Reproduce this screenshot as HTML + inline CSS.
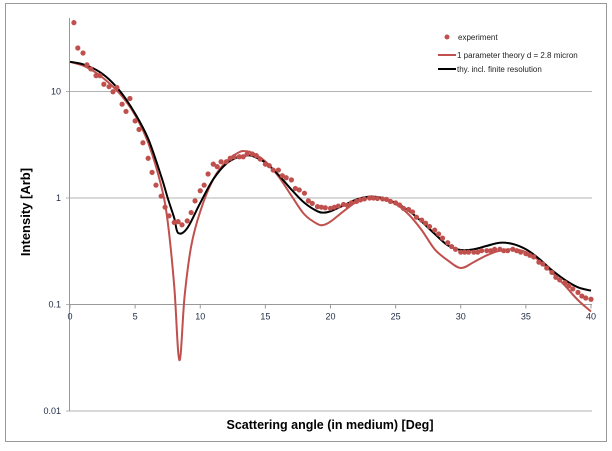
<!DOCTYPE html>
<html><head><meta charset="utf-8"><style>
body{margin:0;background:#fff;}
svg{display:block;font-family:"Liberation Sans",sans-serif;}
</style></head><body>
<svg width="612" height="451" viewBox="0 0 612 451">
<rect x="5.5" y="3.5" width="601" height="438" fill="#fff" stroke="#999"/>
<g id="grid"></g>
<g id="axes"></g>
<g id="series"></g>
<text x="30" y="212" transform="rotate(-90 30 212)" text-anchor="middle" font-size="13" font-weight="bold" fill="#000">Intensity [Arb]</text>
<text x="330" y="429" text-anchor="middle" font-size="12.5" font-weight="bold" fill="#000">Scattering angle (in medium) [Deg]</text>
<g font-size="8" fill="#222">
<circle cx="447" cy="37" r="2.5" fill="#c0504d"/>
<text x="458" y="40">experiment</text>
<line x1="438" y1="55" x2="456" y2="55" stroke="#c0504d" stroke-width="2"/>
<text x="457" y="58">1 parameter theory d = 2.8 micron</text>
<line x1="438" y1="69" x2="456" y2="69" stroke="#000" stroke-width="2"/>
<text x="457" y="72">thy. incl. finite resolution</text>
</g>
</svg>
<script>
const xTicks=[0,5,10,15,20,25,30,35,40];
const yTicks=[10,1,0.1,0.01];
const yTickLabels=["10","1","0.1","0.01"];
const expX=[0.3,0.6,1.0,1.3,1.6,2.0,2.3,2.6,3.0,3.3,3.6,4.0,4.3,4.6,5.0,5.3,5.6,6.0,6.3,6.6,7.0,7.3,7.6,8.0,8.3,8.6,9.0,9.3,9.6,10.0,10.3,10.6,11.0,11.3,11.6,12.0,12.3,12.6,13.0,13.3,13.6,14.0,14.3,14.6,15.0,15.3,15.6,16.0,16.3,16.6,17.0,17.3,17.6,18.0,18.3,18.6,19.0,
19.3,19.6,20.0,20.3,20.6,21.0,21.3,21.6,22.0,22.3,22.6,23.0,23.3,23.6,24.0,24.3,24.6,25.0,25.3,25.6,26.0,26.3,26.6,27.0,27.3,27.6,28.0,28.3,28.6,29.0,29.3,29.6,30.0,30.3,30.6,31.0,31.3,31.6,32.0,32.3,32.6,33.0,33.3,33.6,34.0,34.3,34.6,35.0,35.3,35.6,36.0,36.3,36.6,37.0,37.3,37.6,38.0,38.3,38.6,39.0,39.3,39.6,40.0];
const expY=[44.3,25.6,23,17.8,16.3,14.1,14.1,11.7,11.1,9.95,10.9,7.6,6.5,8.6,5.3,4.4,3.3,2.36,1.74,1.32,1.04,0.82,0.68,0.59,0.60,0.56,0.61,0.73,0.94,1.17,1.32,1.68,2.08,1.97,2.19,2.19,2.36,2.44,2.44,2.44,2.59,2.59,2.50,2.32,2.08,2.01,1.83,1.83,1.62,1.55,1.48,1.23,1.19,1.11,0.94,0.89,0.83,
0.82,0.81,0.80,0.82,0.84,0.87,0.85,0.90,0.93,0.96,0.98,1.0,1.0,0.99,0.98,0.97,0.93,0.90,0.86,0.80,0.78,0.74,0.66,0.62,0.58,0.54,0.50,0.46,0.42,0.38,0.35,0.33,0.31,0.31,0.31,0.31,0.31,0.32,0.32,0.32,0.33,0.33,0.32,0.32,0.33,0.32,0.31,0.30,0.29,0.28,0.25,0.24,0.22,0.20,0.18,0.17,0.16,0.15,0.14,0.13,0.12,0.115,0.112];
const thX=[0,1,2,3,4,5,6,7,7.5,8,8.4,8.8,9.3,10,11,12,13,13.5,14,15,16,17,18,19,19.5,20,21,22,23,24,25,26,27,28,29,30,31,32,33,34,35,36,37,38,39,40];
const thY=[19,17.5,15,12,9,6,3.3,1.3,0.6,0.15,0.03,0.12,0.35,0.75,1.5,2.2,2.7,2.75,2.65,2.2,1.6,1.05,0.7,0.57,0.56,0.6,0.75,0.92,1.02,0.98,0.88,0.7,0.5,0.33,0.26,0.22,0.25,0.29,0.32,0.33,0.31,0.26,0.2,0.15,0.11,0.086];
const resX=[0,1,2,3,4,5,6,7,7.5,8,8.3,9,10,11,12,13,13.6,14,15,16,17,18,19,19.5,20,21,22,23,24,25,26,27,28,29,30,31,32,33,34,35,36,37,38,39,40];
const resY=[19,18,16,13,9.5,6.2,3.6,1.6,1.0,0.65,0.47,0.52,0.9,1.5,2.1,2.45,2.5,2.48,2.15,1.65,1.2,0.9,0.75,0.73,0.75,0.85,0.97,1.03,1.0,0.9,0.76,0.6,0.46,0.36,0.325,0.33,0.355,0.38,0.37,0.33,0.27,0.21,0.17,0.145,0.135];

const NS="http://www.w3.org/2000/svg";
const X=v=>70+v*(521/40);
const Y=v=>198-Math.log10(v)*106.5;
function mk(tag,attrs,parent){const e=document.createElementNS(NS,tag);for(const k in attrs)e.setAttribute(k,attrs[k]);parent.appendChild(e);return e;}
const grid=document.getElementById('grid'),axes=document.getElementById('axes'),series=document.getElementById('series');

yTicks.forEach((t,i)=>{
  const l=mk('line',{x1:66,x2:592,y1:Y(t),y2:Y(t),stroke:'#b3b3b3','stroke-width':1},grid);
  
  
  const tx=mk('text',{x:61,y:Y(t)+3,'text-anchor':'end','font-size':9,fill:'#1f2a44'},axes);
  tx.textContent=yTickLabels[i];
  
  
});
const ya=mk('line',{x1:69.5,x2:69.5,y1:18,y2:Y(0.01),stroke:'#999','stroke-width':1},axes);


const xa=mk('line',{x1:69,x2:592,y1:Y(0.1),y2:Y(0.1),stroke:'#999','stroke-width':1},axes);


xTicks.forEach(t=>{
  const tk=mk('line',{x1:X(t),x2:X(t),y1:Y(0.1),y2:Y(0.1)+4,stroke:'#999'},axes);
  
  
  const tx=mk('text',{x:X(t),y:Y(0.1)+15,'text-anchor':'middle','font-size':9,fill:'#1f2a44'},axes);
  tx.textContent=String(t);
  
  
});
function line(xs,ys,color,name){
  const n=Math.min(xs.length,ys.length);
  const P=[];for(let i=0;i<n;i++)P.push([X(xs[i]),Y(ys[i])]);
  let d='M'+P[0][0].toFixed(1)+','+P[0][1].toFixed(1);
  const k=0.17;
  for(let i=0;i<n-1;i++){
    const p0=P[Math.max(0,i-1)],p1=P[i],p2=P[i+1],p3=P[Math.min(n-1,i+2)];
    const c1=[p1[0]+(p2[0]-p0[0])*k,p1[1]+(p2[1]-p0[1])*k];
    const c2=[p2[0]-(p3[0]-p1[0])*k,p2[1]-(p3[1]-p1[1])*k];
    d+='C'+c1[0].toFixed(1)+','+c1[1].toFixed(1)+' '+c2[0].toFixed(1)+','+c2[1].toFixed(1)+' '+p2[0].toFixed(1)+','+p2[1].toFixed(1);
  }
  const p=mk('path',{d:d,fill:'none',stroke:color,'stroke-width':2,'stroke-linejoin':'round'},series);
  
  
}
line(thX,thY,'#c0504d','theory-line');
line(resX,resY,'#000','resolution-line');
const n=Math.min(expX.length,expY.length);
for(let i=0;i<n;i++){
  const c=mk('circle',{cx:X(expX[i]),cy:Y(expY[i]),r:2.6,fill:'#c0504d'},series);
  
  
}
</script>
</body></html>
